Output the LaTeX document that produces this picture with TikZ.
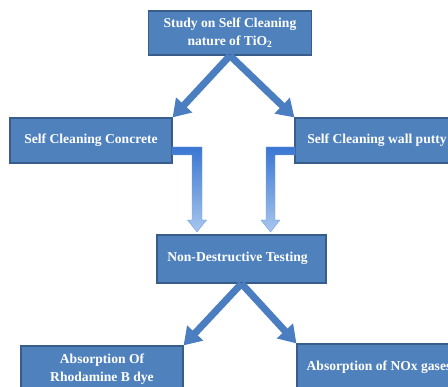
\documentclass[tikz,border=0pt]{standalone}
\usepackage{fontspec}
\setmainfont{Liberation Serif}
\usetikzlibrary{arrows.meta}
\definecolor{boxfill}{HTML}{4F81BD}
\definecolor{boxline}{HTML}{385D8A}
\definecolor{arrowblue}{HTML}{4A7EC0}
\definecolor{gradtop}{HTML}{3A76D2}
\definecolor{gradbot}{HTML}{A8C6EE}
\begin{document}
\begin{tikzpicture}[x=1pt,y=-1pt,
  box/.style={draw=boxline,line width=1.2pt,fill=boxfill,text=white,
    font=\bfseries\fontsize{13.6}{18}\selectfont,align=center,inner sep=0pt},
  bigarrow/.style={draw=arrowblue,line width=7pt,
    -{Triangle[width=21pt,length=17pt]}},
  elbow/.style={top color=gradtop,bottom color=gradbot,draw=gradtop!70!white,line width=0.4pt}]
\useasboundingbox (0,0) rectangle (448,387);
\node[box,minimum width=163pt,minimum height=44pt] (top) at (230,33)
  {Study on Self Cleaning\\nature of TiO\textsubscript{2}};
\node[box,minimum width=162pt,minimum height=45pt] (lc) at (91,140.5)
  {Self Cleaning Concrete};
\node[box,minimum width=164pt,minimum height=45pt] (rc) at (377,140.5)
  {Self Cleaning wall putty};
\node[box,minimum width=169pt,minimum height=48pt] (nd) at (241.5,259)
  {\hspace*{-8pt}\raisebox{4pt}{Non-Destructive Testing}};
\node[box,minimum width=162pt,minimum height=46pt] (bl) at (102,369)
  {Absorption Of\\Rhodamine B dye};
\node[box,minimum width=164pt,minimum height=46pt] (br) at (379,367)
  {Absorption of NOx gases};
% straight arrows
\draw[bigarrow] (top.south) -- (lc.north east);
\draw[bigarrow] (top.south) -- (rc.north west);
\draw[bigarrow] (nd.south) -- (bl.north east);
\draw[bigarrow] (nd.south) -- (br.north west);
% elbow arrows
\path[elbow] (172,147) -- (202,147) -- (202,220) -- (206.5,220) -- (197,232)
  -- (187.5,220) -- (192,220) -- (192,155) -- (172,155) -- cycle;
\path[elbow] (295,147) -- (266,147) -- (266,220) -- (261,220) -- (270.5,232)
  -- (280,220) -- (275,220) -- (275,155) -- (295,155) -- cycle;
\end{tikzpicture}
\end{document}
